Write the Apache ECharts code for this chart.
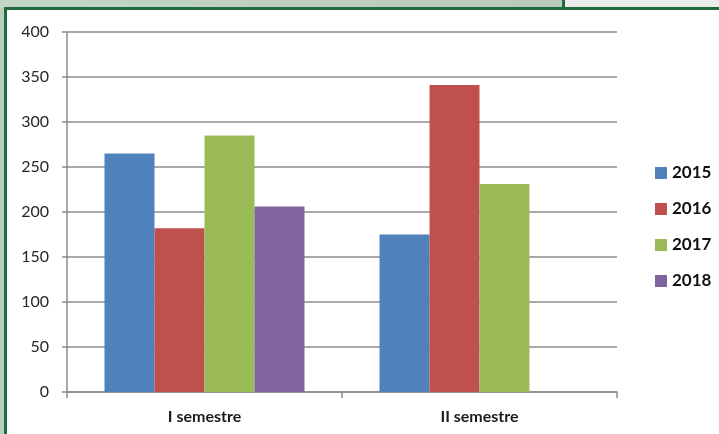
<!DOCTYPE html>
<html>
<head>
<meta charset="utf-8">
<script src="https://cdn.jsdelivr.net/npm/echarts@6/dist/echarts.min.js"></script>
<style>
  html, body { margin: 0; padding: 0; background: #fff; }
  #chart { width: 719px; height: 434px; }
</style>
</head>
<body>
<div id="chart"></div>
<script>
// data
var categories = ["I semestre", "II semestre"];
var years = ["2015", "2016", "2017", "2018"];
var values2015 = [265, 175];
var values2016 = [182, 341];
var values2017 = [285, 231];
var values2018 = [206, null];
var yTicks = [0, 50, 100, 150, 200, 250, 300, 350, 400];

var colors = ["#4f81bd", "#c0504d", "#9bbb59", "#8064a2"];
var allValues = [values2015, values2016, values2017, values2018];

var chart = echarts.init(document.getElementById("chart"));

var series = years.map(function (y, i) {
  return {
    name: y,
    type: "bar",
    data: allValues[i],
    barWidth: 50,
    barGap: 0,
    itemStyle: { color: colors[i] }
  };
});

chart.setOption({
  animation: false,
  color: colors,
  textStyle: { fontFamily: "Lato" },
  graphic: [
    // window strip above the chart frame
    {
      type: "rect", z: -10, silent: true,
      shape: { x: 0, y: 0, width: 562, height: 8 },
      style: {
        fill: new echarts.graphic.LinearGradient(0, 0, 1, 0, [
          { offset: 0, color: "#c3d6c8" },
          { offset: 1, color: "#b9c9bd" }
        ])
      }
    },
    {
      type: "rect", z: -10, silent: true,
      shape: { x: 562, y: 0, width: 3, height: 8 },
      style: { fill: "#1f6b3d" }
    },
    {
      type: "rect", z: -10, silent: true,
      shape: { x: 565, y: 0, width: 154, height: 8 },
      style: { fill: "#ececec" }
    },
    {
      type: "rect", z: -10, silent: true,
      shape: { x: 0, y: 8, width: 4, height: 426 },
      style: { fill: "#b9cfbe" }
    },
    // green frame
    {
      type: "rect", z: -9, silent: true,
      shape: { x: 4, y: 7, width: 715, height: 3 },
      style: { fill: "#1f6b3d" }
    },
    {
      type: "rect", z: -9, silent: true,
      shape: { x: 4, y: 7, width: 3, height: 427 },
      style: { fill: "#1f6b3d" }
    }
  ],
  legend: {
    orient: "vertical",
    left: 650,
    top: 159,
    itemWidth: 12,
    itemHeight: 12,
    itemGap: 18,
    icon: "rect",
    textStyle: { fontSize: 17, fontWeight: "bold", color: "#111", fontFamily: "Lato", lineHeight: 18 },
    data: years
  },
  grid: { left: 67, right: 102, top: 32, bottom: 42, containLabel: false },
  xAxis: {
    type: "category",
    data: categories,
    axisLine: { lineStyle: { color: "#8c8c8c", width: 1.5 } },
    axisTick: { show: true, length: 6, lineStyle: { color: "#8c8c8c", width: 1.5 } },
    axisLabel: { margin: 17, fontSize: 16, fontWeight: "bold", color: "#1a1a1a" }
  },
  yAxis: {
    type: "value",
    min: yTicks[0],
    max: yTicks[yTicks.length - 1],
    interval: 50,
    axisLine: { show: true, lineStyle: { color: "#8c8c8c", width: 1.5 } },
    axisTick: { show: true, length: 5, lineStyle: { color: "#8c8c8c", width: 1.5 } },
    axisLabel: { margin: 18, fontSize: 16, color: "#262626" },
    splitLine: { lineStyle: { color: "#8c8c8c", width: 1.5 } }
  },
  series: series
});
</script>
</body>
</html>
